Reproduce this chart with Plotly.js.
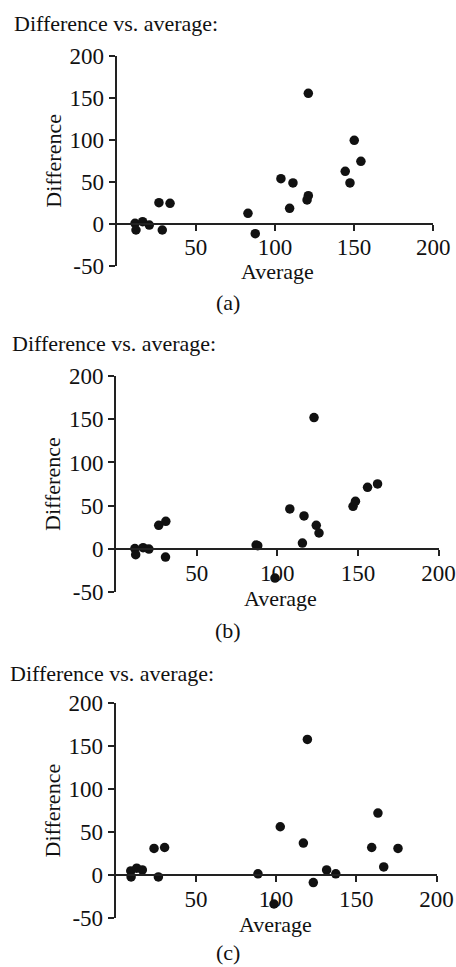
<!DOCTYPE html>
<html>
<head>
<meta charset="utf-8">
<script src="https://cdn.plot.ly/plotly-3.0.1.min.js"></script>
<style>html,body{margin:0;padding:0;background:#fff;}#chart{width:456px;height:967px;}</style>
</head>
<body>
<div id="chart"></div>
<script>
// Panel (a)
const aAverage = [11.7, 12.3, 16.5, 20.7, 26.8, 28.9, 33.8, 83.0, 87.6, 103.8, 111.4, 109.3, 121.1, 121.1, 120.3, 144.4, 147.4, 150.1, 154.3];
const aDifference = [0.5, -7.5, 2.4, -1.6, 25.1, -7.5, 24.3, 12.4, -11.9, 53.7, 48.6, 18.4, 155.6, 33.4, 28.3, 62.5, 48.6, 99.5, 74.5];
// Panel (b)
const bAverage = [11.7, 12.2, 16.8, 20.4, 26.5, 30.9, 30.7, 86.9, 87.9, 98.6, 107.8, 116.6, 115.6, 122.8, 124.2, 125.9, 147.0, 148.5, 156.0, 162.2];
const bDifference = [0.5, -6.5, 1.6, 0, 27.4, 32.0, -9.3, 4.6, 3.9, -33.5, 46.3, 38.2, 6.9, 151.9, 27.4, 18.5, 49.3, 55.1, 71.3, 75.2];
// Panel (c)
const cAverage = [9.4, 9.6, 13.1, 16.6, 23.9, 26.6, 30.5, 88.7, 98.7, 102.6, 117.0, 119.5, 123.2, 131.5, 137.2, 159.6, 163.5, 167.1, 176.0];
const cDifference = [5.0, -1.9, 8.2, 6.2, 31.1, -1.9, 32.2, 1.6, -33.4, 56.3, 37.3, 157.7, -8.5, 6.2, 1.6, 32.2, 72.2, 9.7, 31.1];

const panelTitle = "Difference vs. average:";
const captions = ["(a)", "(b)", "(c)"];
const xTitle = "Average";
const yTitle = "Difference";
const xTicks = [50, 100, 150, 200];
const yTicks = [-50, 0, 50, 100, 150, 200];
const xRange = [0, 200];
const yRange = [-50, 200];

const W = 456, H = 967;
const FONT = "Liberation Serif, Times New Roman, serif";
const INK = "#111111";

// pixel geometry of each panel: left, right, top(200), bottom(-50), title pos, x-title pos, caption y
const geo = [
  {l: 116.5, r: 433.3, t: 56.1, b: 265.6, ty: 23, tx: 12, ax: 277, ay: 272, cy: 302},
  {l: 116.0, r: 438.5, t: 375.9, b: 592.3, ty: 343, tx: 10, ax: 280, ay: 598, cy: 630},
  {l: 115.7, r: 436.5, t: 703.0, b: 918.3, ty: 673, tx: 8, ax: 275, ay: 924, cy: 952}
];
const fx = px => px / W;
const fy = px => 1 - px / H;

const sets = [[aAverage, aDifference], [bAverage, bDifference], [cAverage, cDifference]];
const traces = [];
const layout = {
  width: W, height: H,
  margin: {l: 0, r: 0, t: 0, b: 0},
  paper_bgcolor: "#ffffff", plot_bgcolor: "#ffffff",
  showlegend: false,
  font: {family: FONT, color: INK, size: 22},
  annotations: []
};

geo.forEach((g, i) => {
  const n = i === 0 ? "" : String(i + 1);
  traces.push({
    type: "scatter", mode: "markers",
    x: sets[i][0], y: sets[i][1],
    xaxis: "x" + n, yaxis: "y" + n,
    marker: {color: INK, size: 9.5},
    cliponaxis: false,
    hoverinfo: "skip"
  });
  const yDom = [fy(g.b), fy(g.t)];
  const zeroFrac = (0 - yRange[0]) / (yRange[1] - yRange[0]);
  layout["xaxis" + n] = {
    domain: [fx(g.l), fx(g.r)],
    range: xRange,
    anchor: "free",
    position: yDom[0] + zeroFrac * (yDom[1] - yDom[0]),
    tickvals: xTicks, ticktext: xTicks.map(String),
    ticks: "outside", ticklen: 6, tickwidth: 2, tickcolor: "#222",
    ticklabeloverflow: "allow",
    ticklabelstandoff: -3,
    showline: true, linecolor: "#222", linewidth: 2,
    showgrid: false, zeroline: false,
    tickfont: {family: FONT, size: 23, color: INK},
    fixedrange: true
  };
  layout["yaxis" + n] = {
    domain: yDom,
    range: yRange,
    anchor: "x" + n,
    tickvals: yTicks, ticktext: yTicks.map(String),
    ticks: "outside", ticklen: 6, tickwidth: 2, tickcolor: "#222",
    showline: true, linecolor: "#222", linewidth: 2,
    showgrid: false, zeroline: false,
    tickfont: {family: FONT, size: 23, color: INK},
    title: {text: yTitle, font: {family: FONT, size: 22, color: INK}, standoff: 2},
    fixedrange: true
  };
  layout.annotations.push({
    text: xTitle, xref: "paper", yref: "paper",
    x: fx(g.ax), y: fy(g.ay), xanchor: "center", yanchor: "middle",
    showarrow: false, font: {family: FONT, size: 22, color: INK}
  });
  layout.annotations.push({
    text: panelTitle, xref: "paper", yref: "paper",
    x: fx(g.tx), y: fy(g.ty), xanchor: "left", yanchor: "middle",
    showarrow: false, font: {family: FONT, size: 22, color: INK}
  });
  layout.annotations.push({
    text: captions[i], xref: "paper", yref: "paper",
    x: fx(228), y: fy(g.cy), xanchor: "center", yanchor: "middle",
    showarrow: false, font: {family: FONT, size: 22, color: INK}
  });
});

Plotly.newPlot("chart", traces, layout, {displayModeBar: false, staticPlot: true});
</script>
</body>
</html>
